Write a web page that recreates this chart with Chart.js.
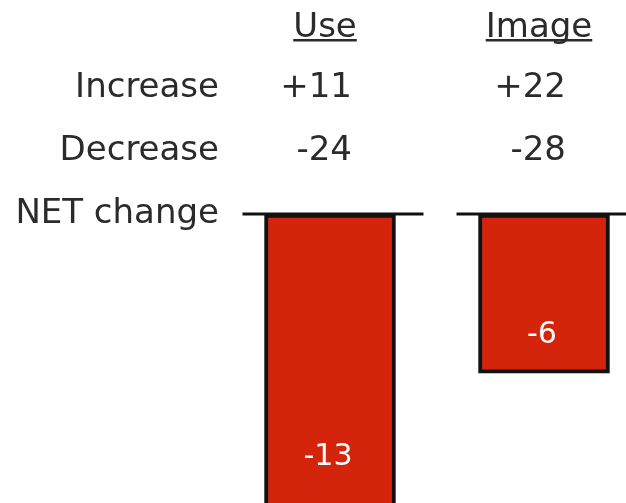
<!DOCTYPE html>
<html>
<head>
<meta charset="utf-8">
<script src="https://cdn.jsdelivr.net/npm/chart.js@4.4.0/dist/chart.umd.min.js"></script>
<style>
  html, body { margin: 0; padding: 0; background: #fff; }
  #wrap { width: 626px; height: 503px; position: relative; }
</style>
</head>
<body>
<div id="wrap"><canvas id="netChart"></canvas></div>
<script>
// 数据
var categories = ['Use', 'Image'];
var increase = [11, 22];
var decrease = [-24, -28];
var netChange = [-13, -6];
var rowLabels = ['Increase', 'Decrease', 'NET change'];

var TEXT = '#2b2b2b';
var FONT = '34px "DejaVu Sans", Verdana, sans-serif';

function signed(v) { return (v > 0 ? '+' : '') + v; }

/** 表头、行标签、NET基线、柱内数值 */
var tablePlugin = {
  id: 'tablePlugin',
  afterDatasetsDraw: function(chart) {
    var ctx = chart.ctx;
    var xs = chart.scales.x, ys = chart.scales.y;
    var bars = chart.getDatasetMeta(0).data;
    var zeroY = ys.getPixelForValue(0);
    ctx.save();

    // NET 基线（每列一段）
    ctx.strokeStyle = '#111';
    ctx.lineWidth = 3;
    bars.forEach(function(b) {
      ctx.beginPath();
      ctx.moveTo(b.x - b.width / 2 - 22, zeroY);
      ctx.lineTo(b.x + b.width / 2 + 28, zeroY);
      ctx.stroke();
    });

    // 柱内数值
    ctx.font = '30px "DejaVu Sans", Verdana, sans-serif';
    ctx.fillStyle = '#fff';
    ctx.textAlign = 'center';
    ctx.textBaseline = 'middle';
    bars.forEach(function(b, i) {
      var y = Math.min(b.y - 38, chart.chartArea.bottom - 46);
      ctx.fillText(String(netChange[i]), b.x - 2, y);
    });

    // 行标签
    ctx.font = FONT;
    ctx.fillStyle = TEXT;
    ctx.textBaseline = 'alphabetic';
    ctx.textAlign = 'right';
    ctx.fillText(rowLabels[0], 219, 97);
    ctx.fillText(rowLabels[1], 219, 160);
    ctx.fillText(rowLabels[2], 219, 223);

    categories.forEach(function(c, i) {
      var cx = xs.getPixelForValue(i);
      // 表头 + 下划线
      ctx.textAlign = 'center';
      ctx.fillText(c, cx - 5, 37);
      var w = ctx.measureText(c).width;
      ctx.fillRect(cx - 5 - w / 2, 39, w, 2.5);
      // 增减
      ctx.textAlign = 'right';
      ctx.fillText(signed(increase[i]), cx + 22, 97);
      ctx.fillText(signed(decrease[i]), cx + 22, 160);
    });
    ctx.restore();
  }
};

new Chart(document.getElementById('netChart'), {
  type: 'bar',
  data: {
    datasets: [{
      label: 'NET change',
      data: netChange.map(function(v, i) { return { x: i, y: v }; }),
      backgroundColor: '#d4240b',
      borderColor: '#111',
      borderWidth: 4,
      borderSkipped: false,
      barThickness: 131
    }]
  },
  options: {
    responsive: true,
    maintainAspectRatio: false,
    animation: false,
    layout: { padding: { top: 214, left: 0, right: 0, bottom: 0 } },
    plugins: { legend: { display: false }, tooltip: { enabled: false } },
    scales: {
      x: { type: 'linear', offset: false, min: -330 / 214, max: 296 / 214, display: false },
      y: { min: -10.9, max: 0, display: false }
    }
  },
  plugins: [tablePlugin]
});
</script>
</body>
</html>
